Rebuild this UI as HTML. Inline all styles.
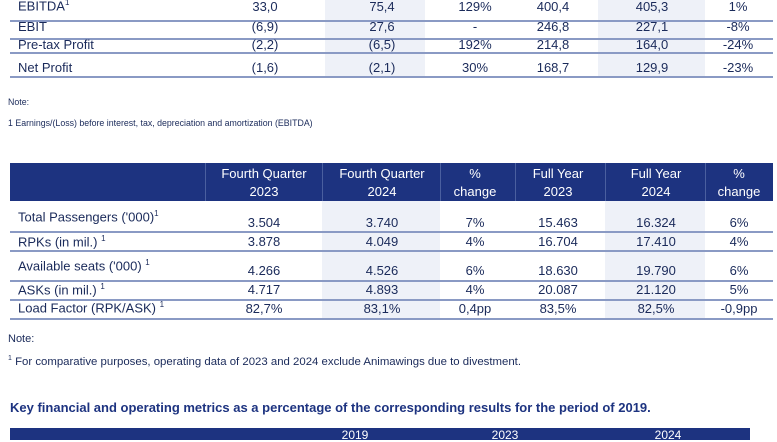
<!DOCTYPE html>
<html><head><style>
body{margin:0;width:777px;height:437px;overflow:hidden;background:#fff;font-family:"Liberation Sans",sans-serif;color:#1a2a5a;position:relative}
.t{position:absolute;font-size:13px;white-space:nowrap}
.c{transform:translateX(-50%);text-align:center}
.sh{position:absolute;background:#eef1f8}
.ln{position:absolute;height:2px;background:#8a9ac4}
.hd{position:absolute;background:#1d3380}
.w{color:#fff;line-height:18px}
.vs{position:absolute;width:1px;background:#4a5f9f}
</style></head><body>
<div class="sh" style="left:325px;top:0;width:100px;height:77px"></div>
<div class="sh" style="left:598px;top:0;width:107px;height:77px"></div>
<div class="ln" style="left:10px;top:20px;width:763px"></div>
<div class="ln" style="left:10px;top:38px;width:763px"></div>
<div class="ln" style="left:10px;top:52px;width:763px"></div>
<div class="ln" style="left:10px;top:76px;width:763px"></div>
<div class="t" style="left:18px;top:-2px">EBITDA<sup style="font-size:8px">1</sup></div>
<div class="t c" style="left:265px;top:-1px">33,0</div><div class="t c" style="left:382px;top:-1px">75,4</div><div class="t c" style="left:475px;top:-1px">129%</div><div class="t c" style="left:553px;top:-1px">400,4</div><div class="t c" style="left:652px;top:-1px">405,3</div><div class="t c" style="left:738px;top:-1px">1%</div>
<div class="t" style="left:18px;top:19px">EBIT</div>
<div class="t c" style="left:265px;top:19px">(6,9)</div><div class="t c" style="left:382px;top:19px">27,6</div><div class="t c" style="left:475px;top:19px">-</div><div class="t c" style="left:553px;top:19px">246,8</div><div class="t c" style="left:652px;top:19px">227,1</div><div class="t c" style="left:738px;top:19px">-8%</div>
<div class="t" style="left:18px;top:37px">Pre-tax Profit</div>
<div class="t c" style="left:265px;top:37px">(2,2)</div><div class="t c" style="left:382px;top:37px">(6,5)</div><div class="t c" style="left:475px;top:37px">192%</div><div class="t c" style="left:553px;top:37px">214,8</div><div class="t c" style="left:652px;top:37px">164,0</div><div class="t c" style="left:738px;top:37px">-24%</div>
<div class="t" style="left:18px;top:60px">Net Profit</div>
<div class="t c" style="left:265px;top:60px">(1,6)</div><div class="t c" style="left:382px;top:60px">(2,1)</div><div class="t c" style="left:475px;top:60px">30%</div><div class="t c" style="left:553px;top:60px">168,7</div><div class="t c" style="left:652px;top:60px">129,9</div><div class="t c" style="left:738px;top:60px">-23%</div>
<div class="t" style="left:8px;top:97px;font-size:8.8px">Note:</div>
<div class="t" style="left:8px;top:118px;font-size:8.8px">1 Earnings/(Loss) before interest, tax, depreciation and amortization (EBITDA)</div>
<div class="hd" style="left:10px;top:163px;width:763px;height:38px"></div>
<div class="vs" style="left:205px;top:163px;height:38px"></div><div class="vs" style="left:322px;top:163px;height:38px"></div><div class="vs" style="left:440px;top:163px;height:38px"></div><div class="vs" style="left:515px;top:163px;height:38px"></div><div class="vs" style="left:605px;top:163px;height:38px"></div><div class="vs" style="left:705px;top:163px;height:38px"></div>
<div class="t c w" style="left:264px;top:165px">Fourth Quarter<br>2023</div>
<div class="t c w" style="left:382px;top:165px">Fourth Quarter<br>2024</div>
<div class="t c w" style="left:475px;top:165px">%<br>change</div>
<div class="t c w" style="left:558px;top:165px">Full Year<br>2023</div>
<div class="t c w" style="left:656px;top:165px">Full Year<br>2024</div>
<div class="t c w" style="left:739px;top:165px">%<br>change</div>
<div class="sh" style="left:322px;top:201px;width:118px;height:117px"></div>
<div class="sh" style="left:605px;top:201px;width:100px;height:117px"></div>
<div class="ln" style="left:10px;top:231px;width:763px"></div>
<div class="ln" style="left:10px;top:250px;width:763px"></div>
<div class="ln" style="left:10px;top:280px;width:763px"></div>
<div class="ln" style="left:10px;top:299px;width:763px"></div>
<div class="ln" style="left:10px;top:318px;width:763px"></div>
<div class="t" style="left:18px;top:209px">Total Passengers ('000)<sup style="font-size:8px">1</sup></div>
<div class="t c" style="left:264px;top:215px">3.504</div><div class="t c" style="left:382px;top:215px">3.740</div><div class="t c" style="left:475px;top:215px">7%</div><div class="t c" style="left:558px;top:215px">15.463</div><div class="t c" style="left:656px;top:215px">16.324</div><div class="t c" style="left:739px;top:215px">6%</div>
<div class="t" style="left:18px;top:234px">RPKs (in mil.) <sup style="font-size:8px">1</sup></div>
<div class="t c" style="left:264px;top:234px">3.878</div><div class="t c" style="left:382px;top:234px">4.049</div><div class="t c" style="left:475px;top:234px">4%</div><div class="t c" style="left:558px;top:234px">16.704</div><div class="t c" style="left:656px;top:234px">17.410</div><div class="t c" style="left:739px;top:234px">4%</div>
<div class="t" style="left:18px;top:258px">Available seats ('000) <sup style="font-size:8px">1</sup></div>
<div class="t c" style="left:264px;top:263px">4.266</div><div class="t c" style="left:382px;top:263px">4.526</div><div class="t c" style="left:475px;top:263px">6%</div><div class="t c" style="left:558px;top:263px">18.630</div><div class="t c" style="left:656px;top:263px">19.790</div><div class="t c" style="left:739px;top:263px">6%</div>
<div class="t" style="left:18px;top:282px">ASKs (in mil.) <sup style="font-size:8px">1</sup></div>
<div class="t c" style="left:264px;top:282px">4.717</div><div class="t c" style="left:382px;top:282px">4.893</div><div class="t c" style="left:475px;top:282px">4%</div><div class="t c" style="left:558px;top:282px">20.087</div><div class="t c" style="left:656px;top:282px">21.120</div><div class="t c" style="left:739px;top:282px">5%</div>
<div class="t" style="left:18px;top:300px">Load Factor (RPK/ASK) <sup style="font-size:8px">1</sup></div>
<div class="t c" style="left:264px;top:301px">82,7%</div><div class="t c" style="left:382px;top:301px">83,1%</div><div class="t c" style="left:475px;top:301px">0,4pp</div><div class="t c" style="left:558px;top:301px">83,5%</div><div class="t c" style="left:656px;top:301px">82,5%</div><div class="t c" style="left:739px;top:301px">-0,9pp</div>
<div class="t" style="left:8px;top:333px;font-size:11px">Note:</div>
<div class="t" style="left:8px;top:355px;font-size:11.4px"><sup style="font-size:7px">1</sup> For comparative purposes, operating data of 2023 and 2024 exclude Animawings due to divestment.</div>
<div class="t" style="left:10px;top:400px;font-size:13px;font-weight:bold;color:#1d3380">Key financial and operating metrics as a percentage of the corresponding results for the period of 2019.</div>
<div class="hd" style="left:10px;top:428px;width:740px;height:12px"></div>
<div class="t c" style="left:355px;top:428px;color:#fff;font-size:12px">2019</div>
<div class="t c" style="left:505px;top:428px;color:#fff;font-size:12px">2023</div>
<div class="t c" style="left:668px;top:428px;color:#fff;font-size:12px">2024</div>
</body></html>
